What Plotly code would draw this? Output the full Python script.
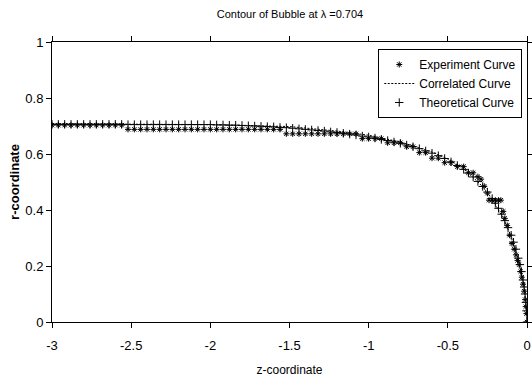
import plotly.graph_objects as go

# Experiment curve (asterisks)
exp_z = [-3.00, -2.96, -2.92, -2.88, -2.84, -2.80, -2.76, -2.72, -2.68, -2.64, -2.60, -2.56,
         -2.52, -2.48, -2.44, -2.40, -2.36, -2.32, -2.28, -2.24, -2.20, -2.16, -2.12, -2.08,
         -2.04, -2.00, -1.96, -1.92, -1.88, -1.84, -1.80, -1.76, -1.72, -1.68, -1.64, -1.60, -1.56,
         -1.52, -1.48, -1.44, -1.40, -1.36, -1.32, -1.28, -1.24, -1.20, -1.16, -1.12, -1.08,
         -1.04, -1.00, -0.96, -0.92,
         -0.88, -0.84, -0.80,
         -0.76, -0.72,
         -0.68, -0.64,
         -0.60, -0.56,
         -0.52, -0.48,
         -0.44, -0.40,
         -0.37, -0.34,
         -0.31, -0.29, -0.27, -0.25,
         -0.24, -0.22, -0.20, -0.18, -0.165,
         -0.15, -0.14, -0.125, -0.11, -0.095, -0.08, -0.07, -0.06, -0.05, -0.04,
         -0.033, -0.025, -0.018, -0.012, -0.008, -0.004, 0.0]
exp_r = [0.703, 0.703, 0.703, 0.703, 0.703, 0.703, 0.703, 0.703, 0.703, 0.703, 0.703, 0.703,
         0.688, 0.688, 0.688, 0.688, 0.688, 0.688, 0.688, 0.688, 0.688, 0.688, 0.688, 0.688,
         0.688, 0.688, 0.688, 0.688, 0.688, 0.688, 0.688, 0.688, 0.688, 0.688, 0.688, 0.688, 0.688,
         0.672, 0.672, 0.672, 0.672, 0.672, 0.672, 0.672, 0.672, 0.672, 0.672, 0.672, 0.672,
         0.655, 0.655, 0.655, 0.655,
         0.640, 0.640, 0.640,
         0.626, 0.626,
         0.605, 0.605,
         0.585, 0.585,
         0.569, 0.569,
         0.555, 0.555,
         0.533, 0.533,
         0.519, 0.510, 0.485, 0.460,
         0.435, 0.435, 0.435, 0.435, 0.435,
         0.395, 0.370, 0.345, 0.310, 0.280, 0.260, 0.240, 0.220, 0.205, 0.180,
         0.160, 0.135, 0.110, 0.080, 0.055, 0.030, 0.0]

# Theoretical curve (plus markers)
theo_z = [-3.00, -2.96, -2.92, -2.88, -2.84, -2.80, -2.76, -2.72, -2.68, -2.64, -2.60, -2.56,
          -2.52, -2.48, -2.44, -2.40, -2.36, -2.32, -2.28, -2.24, -2.20, -2.16, -2.12, -2.08,
          -2.04, -2.00, -1.96, -1.92, -1.88, -1.84, -1.80, -1.76, -1.72, -1.68, -1.64, -1.60,
          -1.56, -1.52, -1.48, -1.44, -1.40, -1.36, -1.32, -1.28, -1.24, -1.20, -1.16, -1.12,
          -1.08, -1.04, -1.00, -0.96, -0.92, -0.88, -0.84, -0.80, -0.76, -0.72, -0.68, -0.64,
          -0.60, -0.56, -0.52, -0.48, -0.44, -0.40, -0.37, -0.34, -0.31, -0.28, -0.25, -0.22,
          -0.20, -0.18, -0.16, -0.14, -0.12, -0.10, -0.085, -0.07, -0.055, -0.045, -0.035,
          -0.025, -0.018, -0.012, -0.007, -0.003, 0.0]
theo_r = [0.706, 0.706, 0.706, 0.706, 0.706, 0.706, 0.706, 0.706, 0.706, 0.706, 0.706, 0.706,
          0.705, 0.705, 0.705, 0.705, 0.705, 0.705, 0.705, 0.705, 0.705, 0.705, 0.705, 0.705,
          0.705, 0.705, 0.704, 0.704, 0.703, 0.703, 0.702, 0.701, 0.700, 0.699, 0.698, 0.697,
          0.695, 0.694, 0.692, 0.690, 0.688, 0.686, 0.684, 0.682, 0.679, 0.677, 0.674, 0.671,
          0.668, 0.664, 0.661, 0.657, 0.652, 0.648, 0.643, 0.638, 0.632, 0.626, 0.619, 0.611,
          0.603, 0.594, 0.584, 0.572, 0.559, 0.545, 0.532, 0.518, 0.502, 0.484, 0.464, 0.441,
          0.424, 0.406, 0.385, 0.362, 0.337, 0.310, 0.285, 0.260, 0.228, 0.205, 0.180,
          0.150, 0.125, 0.100, 0.070, 0.040, 0.0]

# Correlated curve (dashed line)
corr_z = [-3.00, -2.50, -2.00, -1.50, -1.20, -1.00, -0.80, -0.60, -0.50, -0.40, -0.30,
          -0.25, -0.20, -0.15, -0.10, -0.07, -0.04, -0.02, -0.01, -0.004, 0.0]
corr_r = [0.708, 0.707, 0.705, 0.698, 0.682, 0.667, 0.643, 0.607, 0.582, 0.547, 0.495,
          0.462, 0.420, 0.370, 0.305, 0.250, 0.185, 0.130, 0.090, 0.050, 0.0]

x_ticks = [-3, -2.5, -2, -1.5, -1, -0.5, 0]
x_tick_labels = ["-3", "-2.5", "-2", "-1.5", "-1", "-0.5", "0"]
y_ticks = [0, 0.2, 0.4, 0.6, 0.8, 1]
y_tick_labels = ["0", "0.2", "0.4", "0.6", "0.8", "1"]

FONT = "Liberation Sans Narrow, Arial Narrow, Liberation Sans, Arial, sans-serif"

fig = go.Figure()
fig.add_trace(go.Scatter(
    x=exp_z, y=exp_r, mode="markers", name="Experiment Curve",
    marker=dict(symbol="asterisk-open", size=5, color="black",
                line=dict(color="black", width=1)),
))
fig.add_trace(go.Scatter(
    x=corr_z, y=corr_r, mode="lines", name="Correlated Curve",
    line=dict(color="black", width=1, dash="2px,1.5px"),
))
fig.add_trace(go.Scatter(
    x=theo_z, y=theo_r, mode="markers", name="Theoretical Curve",
    marker=dict(symbol="cross-thin-open", size=6, color="black",
                line=dict(color="black", width=1)),
))

fig.update_layout(
    width=532, height=379,
    margin=dict(l=52, r=5, t=42, b=57, autoexpand=False),
    paper_bgcolor="white", plot_bgcolor="white",
    font=dict(family=FONT, size=12, color="black"),
    title=dict(text="Contour of Bubble at λ =0.704", x=0.545, xanchor="center",
               y=0.962, yanchor="middle", font=dict(family=FONT, size=11, color="black")),
    showlegend=True,
    legend=dict(x=0.99, y=0.975, xanchor="right", yanchor="top",
                bgcolor="white", bordercolor="black", borderwidth=1,
                font=dict(family=FONT, size=12, color="black"),
                tracegroupgap=0, itemwidth=30),
    xaxis=dict(range=[-3, 0], tickvals=x_ticks, ticktext=x_tick_labels,
               showgrid=False, zeroline=False, showline=True, linecolor="black",
               linewidth=1, mirror="ticks", ticks="outside", ticklen=5,
               tickcolor="black", automargin=False, ticklabelstandoff=6,
               tickfont=dict(family=FONT, size=13, color="black"),
               title=dict(text="z-coordinate", standoff=14,
                          font=dict(family=FONT, size=12, color="black"))),
    yaxis=dict(range=[0, 1], tickvals=y_ticks, ticktext=y_tick_labels,
               showgrid=False, zeroline=False, showline=True, linecolor="black",
               linewidth=1, mirror="ticks", ticks="outside", ticklen=5,
               tickcolor="black", automargin=False,
               tickfont=dict(family=FONT, size=13, color="black"),
               title=dict(text="<b>r-coordinate</b>", standoff=2,
                          font=dict(family=FONT, size=13, color="black"))),
)

fig.write_html("out.html", config={"displayModeBar": False},
               post_script="document.body.style.margin='0px';")
